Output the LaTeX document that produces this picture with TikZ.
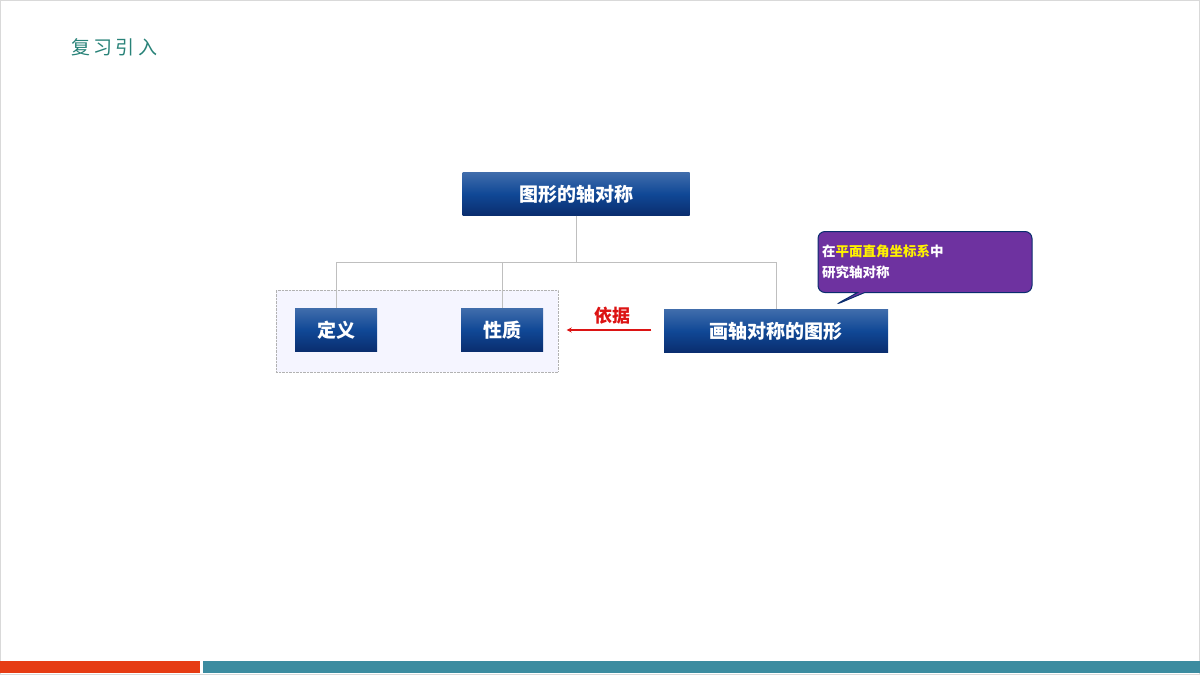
\documentclass[tikz,border=0pt]{standalone}
\usepackage{fontspec}
\setmainfont{Noto Sans CJK SC}
\usetikzlibrary{positioning,shapes.callouts}
\definecolor{boxblue}{RGB}{16,72,150}
\definecolor{boxdark}{RGB}{10,45,110}
\definecolor{titleteal}{RGB}{40,130,120}
\definecolor{barred}{RGB}{230,60,20}
\definecolor{barteal}{RGB}{60,140,160}
\definecolor{calloutpurple}{RGB}{110,50,160}
\definecolor{linkred}{RGB}{220,20,20}
\tikzset{
  topic/.style={top color=boxblue!80, bottom color=boxdark, middle color=boxblue, draw=none,
    text=white, font=\bfseries\fontsize{19}{19}\selectfont, inner sep=0pt, minimum height=43pt},
  tree/.style={draw=gray!50, line width=0.8pt}
}
\begin{document}
\begin{tikzpicture}[x=1pt,y=-1pt]
  \useasboundingbox (0,0) rectangle (1200,675);
  \draw[gray!30] (0.5,0.5) rectangle (1199.5,674.5);
  \node[text=titleteal, font=\fontsize{19}{19}\selectfont, anchor=west] (title) at (68,47) {复\,习\,引\,入};

  % group box
  \node[draw=gray!60, densely dotted, fill=blue!4, minimum width=282pt, minimum height=82pt, inner sep=0pt] (grp) at (417,331) {};

  \node[topic, minimum width=227pt] (axis) at (576,194) {图形的轴对称};
  \node[topic, minimum width=82pt] (defn) at (336,330) {定义};
  \node[topic, minimum width=82pt] (prop) at (502,330) {性质};
  \node[topic, minimum width=224pt] (draw) at (776,331) {画轴对称的图形};

  \coordinate (fork) at (576,262);
  \draw[tree] (axis.south) -- (fork);
  \draw[tree] (defn.north |- fork) -- (draw.north |- fork);
  \foreach \n in {defn,prop,draw}
    \draw[tree] (\n.north |- fork) -- (\n.north);

  \node[inner sep=0pt] (left) at (566,330) {};
  \node[inner sep=0pt] (right) at (652,330) {};
  \draw[linkred, line width=1.2pt, -stealth] (right) -- (left);
  \node[text=linkred, font=\bfseries\fontsize{18}{18}\selectfont] (basis) at (612,316) {依据};

  \node[rectangle callout, rounded corners=7pt, fill=calloutpurple, draw=boxdark, line width=1pt,
    minimum width=214pt, minimum height=61pt, text width=206pt, align=left,
    callout absolute pointer={(835,305)}, text=white, font=\bfseries\fontsize{13.5}{21}\selectfont]
    (note) at (925,262) {在\textcolor{yellow}{平面直角坐标系}中\\研究轴对称};

  \fill[barred] (0,661) rectangle (200,673);
  \fill[barteal] (203,661) rectangle (1200,673);
\end{tikzpicture}
\end{document}
